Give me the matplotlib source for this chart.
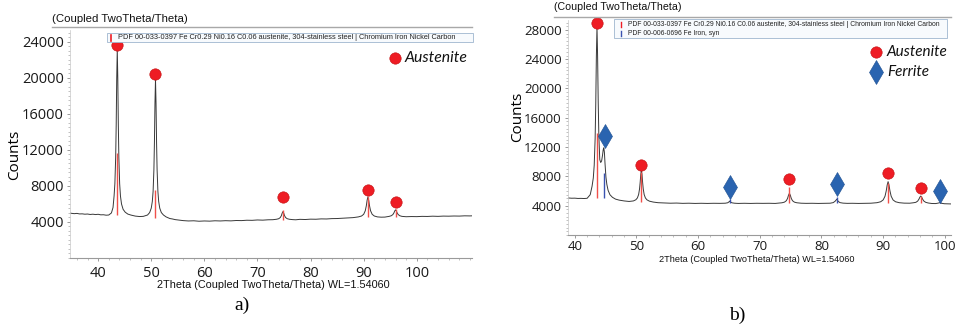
import matplotlib.pyplot as plt
from matplotlib.lines import Line2D
from matplotlib.patches import Rectangle
from matplotlib.ticker import MultipleLocator

W, H = 958, 328

# ---- panel a: austenitic sample, (2theta, counts)
a_pattern = [
    (34.7, 4980), (35.0, 4960), (35.5, 4920), (36.0, 4950), (36.5, 4890), (37.0, 4900),
    (37.5, 4860), (38.0, 4880), (38.5, 4830), (39.0, 4860), (39.5, 4820), (40.0, 4850),
    (40.5, 4790), (41.0, 4800), (41.5, 4750), (42.0, 4770), (42.5, 5000), (42.8, 5600),
    (43.0, 6880), (43.15, 8250), (43.3, 11130), (43.4, 14780), (43.5, 19950), (43.6, 23100),
    (43.7, 19950), (43.8, 14780), (43.9, 11130), (44.05, 8250), (44.2, 6880), (44.4, 5995),
    (44.7, 5400), (45.1, 5080), (45.6, 4870), (46.2, 4760), (47.0, 4650), (47.8, 4600),
    (48.5, 4620), (49.3, 4770), (49.7, 5040), (50.0, 5530), (50.2, 6270), (50.35, 7410),
    (50.5, 9820), (50.6, 12860), (50.7, 17170), (50.8, 19800), (50.9, 17170), (51.0, 12860),
    (51.1, 9820), (51.25, 7410), (51.4, 6270), (51.6, 5530), (51.9, 5040), (52.3, 4770),
    (52.8, 4560), (53.5, 4380), (54.0, 4330), (54.5, 4260), (55.0, 4220), (55.5, 4170),
    (56.0, 4150), (57.0, 4110), (58.0, 4130), (59.0, 4080), (60.0, 4110), (61.0, 4090),
    (62.0, 4130), (63.0, 4110), (64.0, 4140), (65.0, 4120), (66.0, 4160), (67.0, 4150),
    (68.0, 4190), (69.0, 4180), (70.0, 4220), (71.0, 4200), (72.0, 4240), (72.9, 4250),
    (73.6, 4300), (74.0, 4360), (74.3, 4490), (74.5, 4700), (74.65, 4970), (74.8, 5150),
    (74.95, 4970), (75.1, 4700), (75.3, 4490), (75.6, 4360), (76.0, 4300), (76.6, 4260),
    (77.2, 4240), (78.0, 4290), (79.0, 4270), (80.0, 4310), (81.0, 4300), (82.0, 4340),
    (83.0, 4330), (84.0, 4370), (85.0, 4380), (86.0, 4410), (87.0, 4430), (88.0, 4480),
    (89.0, 4560), (89.6, 4660), (90.0, 4850), (90.3, 5240), (90.5, 5800), (90.65, 6410),
    (90.8, 6770), (90.95, 6410), (91.1, 5800), (91.3, 5240), (91.6, 4850), (92.0, 4660),
    (92.6, 4560), (93.3, 4530), (94.0, 4540), (94.8, 4620), (95.2, 4690), (95.5, 4820),
    (95.7, 5010), (95.85, 5220), (96.0, 5340), (96.15, 5220), (96.3, 5010), (96.5, 4820),
    (96.8, 4690), (97.2, 4620), (98.0, 4580), (99.0, 4600), (100.0, 4590), (101.0, 4620),
    (102.0, 4610), (103.0, 4640), (104.0, 4620), (105.0, 4650), (106.0, 4640),
    (107.0, 4660), (108.0, 4650), (109.0, 4680), (110.0, 4670), (110.4, 4680),
]
a_aus_pos = [43.6, 50.8, 74.8, 90.8, 96.0]
a_aus_base = [4720, 4450, 4230, 4500, 4560]
a_aus_top = [11700, 7550, 5330, 6770, 5400]
a_aus_mark = [23600, 20400, 6800, 7600, 6250]
a_yticks = [4000, 8000, 12000, 16000, 20000, 24000]
a_xticks = [40, 50, 60, 70, 80, 90, 100]

# ---- panel b: austenite + ferrite sample
b_pattern = [
    (38.9, 5060), (39.5, 5020), (40.0, 5030), (40.5, 4990), (41.0, 5000), (41.5, 4980),
    (42.0, 5010), (42.5, 5500), (42.8, 6650), (43.0, 7780), (43.15, 9520), (43.3, 13190),
    (43.4, 17830), (43.5, 24400), (43.6, 28430), (43.7, 24400), (43.8, 18100), (43.9, 13600),
    (44.05, 10300), (44.2, 9900), (44.35, 10100), (44.5, 10900), (44.6, 11600), (44.7, 11900),
    (44.8, 11300), (44.9, 9800), (45.05, 7900), (45.2, 6900), (45.4, 6100), (45.7, 5500),
    (46.1, 5150), (46.6, 4900), (47.2, 4760), (48.0, 4650), (48.8, 4580), (49.5, 4650),
    (49.9, 4810), (50.15, 5060), (50.35, 5520), (50.5, 6290), (50.6, 7170), (50.7, 8270),
    (50.8, 8870), (50.9, 8270), (51.0, 7170), (51.1, 6290), (51.25, 5520), (51.45, 5060),
    (51.7, 4800), (52.1, 4620), (52.7, 4500), (53.5, 4410), (54.5, 4370), (55.5, 4340),
    (56.5, 4360), (57.5, 4320), (58.5, 4340), (59.5, 4310), (60.5, 4330), (61.5, 4310),
    (62.5, 4330), (63.5, 4320), (64.4, 4340), (64.8, 4400), (65.0, 4520), (65.1, 4620),
    (65.25, 4500), (65.5, 4390), (65.9, 4340), (66.5, 4310), (67.5, 4330), (68.5, 4310),
    (69.5, 4330), (70.5, 4320), (71.5, 4330), (72.5, 4310), (73.6, 4400), (74.0, 4490),
    (74.3, 4680), (74.5, 5000), (74.65, 5420), (74.8, 5690), (74.95, 5420), (75.1, 5000),
    (75.3, 4680), (75.6, 4490), (76.0, 4400), (76.7, 4340), (77.5, 4320), (78.5, 4330),
    (79.5, 4310), (80.5, 4320), (81.4, 4340), (81.9, 4420), (82.2, 4600), (82.5, 4900),
    (82.7, 4600), (83.0, 4420), (83.5, 4350), (84.2, 4320), (85.0, 4330), (86.0, 4310),
    (87.0, 4330), (88.0, 4340), (89.0, 4410), (89.6, 4540), (90.0, 4790), (90.3, 5290),
    (90.5, 6030), (90.65, 6810), (90.8, 7280), (90.95, 6810), (91.1, 6030), (91.3, 5290),
    (91.6, 4790), (92.0, 4540), (92.6, 4410), (93.4, 4350), (94.3, 4340), (94.9, 4400),
    (95.3, 4460), (95.6, 4630), (95.8, 4890), (95.95, 5160), (96.1, 5320), (96.25, 5160),
    (96.4, 4890), (96.6, 4630), (96.9, 4460), (97.3, 4370), (97.9, 4300), (98.5, 4290),
    (98.9, 4350), (99.2, 4420), (99.4, 4340), (99.9, 4270), (100.5, 4250), (101.0, 4240),
]
b_aus_pos = [43.6, 50.8, 74.8, 90.8, 96.1]
b_aus_base = [5050, 4550, 4370, 4370, 4370]
b_aus_top = [13900, 8640, 6550, 7140, 5320]
b_aus_mark = [29000, 9550, 7690, 8420, 6460]
b_fer_pos = [44.7, 65.1, 82.5, 99.2]
b_fer_base = [5050, 4370, 4370, 4370]
b_fer_top = [8460, 4900, 5230, 4600]
b_fer_mark_pos = [44.9, 65.1, 82.5, 99.2]
b_fer_mark = [13500, 6600, 6960, 6050]
b_yticks = [4000, 8000, 12000, 16000, 20000, 24000, 28000]
b_xticks = [40, 50, 60, 70, 80, 90, 100]

PDF_AUS = "PDF 00-033-0397 Fe Cr0.29 Ni0.16 C0.06 austenite, 304-stainless steel | Chromium Iron Nickel Carbon"
PDF_FER = "PDF 00-006-0696 Fe Iron, syn"
XLABEL = "2Theta (Coupled TwoTheta/Theta) WL=1.54060"
TITLE = "(Coupled TwoTheta/Theta)"

RED = "#ee1c24"
BLUE = "#2a64b0"
STICK_RED = "#f0504a"
STICK_BLUE = "#3a52b0"
CURVE = "#383838"
TICK_FONT = "Open Sans"


def fx(px):
    return px / W


def fy(py):
    return 1 - py / H


def style_axes(ax, xlim, ylim, xticks, yticks, tick_size, xpad):
    ax.set_xlim(*xlim)
    ax.set_ylim(*ylim)
    ax.set_xticks(xticks)
    ax.set_yticks(yticks)
    ax.xaxis.set_minor_locator(MultipleLocator(2))
    ax.yaxis.set_minor_locator(MultipleLocator(500))
    for side in ("top", "right"):
        ax.spines[side].set_visible(False)
    ax.spines["left"].set_color("#c8c8c8")
    ax.spines["left"].set_linewidth(0.5)
    ax.spines["bottom"].set_color("#9a9a9a")
    ax.spines["bottom"].set_linewidth(0.8)
    ax.tick_params(which="major", length=2.5, width=0.6, color="#8a8a8a",
                   labelsize=tick_size, labelcolor="#1a1a1a", pad=2)
    ax.tick_params(axis="x", which="major", pad=xpad)
    ax.tick_params(which="minor", length=1.5, width=0.5, color="#a8a8a8")
    for lab in ax.get_xticklabels() + ax.get_yticklabels():
        lab.set_family(TICK_FONT)
    ax.patch.set_alpha(0)


def header(fig, x0, x1, y_title, y_line, size):
    fig.text(fx(x0), fy(y_title), TITLE, family="Liberation Sans", fontsize=size,
             ha="left", va="center", color="#111111")
    fig.add_artist(Line2D([fx(x0), fx(x1)], [fy(y_line), fy(y_line)],
                          color="#a8a8a8", lw=1.0))


def pdf_box(fig, x0, y0, x1, y1):
    fig.add_artist(Rectangle((fx(x0), fy(y1)), fx(x1) - fx(x0), fy(y0) - fy(y1),
                             facecolor="#f7fafd", edgecolor="#9fb6cf", lw=0.6))


fig = plt.figure(figsize=(W / 100, H / 100), dpi=100)

# ---------------- panel a  (axes box in pixels: x 70..472, y 30..258)
ax_a = fig.add_axes([fx(70), fy(258), fx(472) - fx(70), fy(30) - fy(258)])
ax_a.plot([p[0] for p in a_pattern], [p[1] for p in a_pattern], color=CURVE, lw=0.7)
ax_a.vlines(a_aus_pos, a_aus_base, a_aus_top, color=STICK_RED, lw=1.0)
ax_a.plot(a_aus_pos, a_aus_mark, "o", ms=8.2, color=RED, mec="#c01010", mew=0.4,
          clip_on=False)
style_axes(ax_a, (34.7, 110.4), (0, 25300), a_xticks, a_yticks, 10.5, 3)
ax_a.set_ylabel("Counts", family=TICK_FONT, fontsize=11)
ax_a.yaxis.set_label_coords((22 - 70) / 402, (258 - 155) / 228)
fig.text(fx(273), fy(285), XLABEL, family="Liberation Sans", fontsize=7.8,
         ha="center", va="center", color="#111111")
header(fig, 52, 472, 18.5, 27.3, 8.2)
pdf_box(fig, 107, 33.3, 472.5, 42)
fig.add_artist(Line2D([fx(111), fx(111)], [fy(34.5), fy(40.5)], color=RED, lw=1.2))
fig.text(fx(118), fy(37.5), PDF_AUS, family="Liberation Sans", fontsize=5.35,
         ha="left", va="center", color="#222222")
fig.add_artist(Line2D([fx(395)], [fy(58.3)], marker="o", ms=8.2, color=RED,
                      mec="#c01010", mew=0.4, ls="none"))
fig.text(fx(405), fy(58.3), "Austenite", family="Lato", style="italic",
         fontsize=11.3, ha="left", va="center", color="#111111")
fig.text(fx(242), fy(305), "a)", family="Liberation Serif", fontsize=14,
         ha="center", va="center")

# ---------------- panel b  (axes box in pixels: x 568..951, y 20..235)
ax_b = fig.add_axes([fx(568), fy(235), fx(951) - fx(568), fy(20) - fy(235)])
ax_b.plot([p[0] for p in b_pattern], [p[1] for p in b_pattern], color=CURVE, lw=0.7)
ax_b.vlines(b_aus_pos, b_aus_base, b_aus_top, color=STICK_RED, lw=1.0)
ax_b.vlines(b_fer_pos, b_fer_base, b_fer_top, color=STICK_BLUE, lw=1.0)
ax_b.plot(b_aus_pos, b_aus_mark, "o", ms=8.2, color=RED, mec="#c01010", mew=0.4,
          clip_on=False)
ax_b.plot(b_fer_mark_pos, b_fer_mark, "d", ms=12.5, color=BLUE, mec="#1d4f90",
          mew=0.4, clip_on=False)
style_axes(ax_b, (38.9, 101.0), (0, 29350), b_xticks, b_yticks, 9.5, 1)
ax_b.set_ylabel("Counts", family=TICK_FONT, fontsize=11)
ax_b.yaxis.set_label_coords((525 - 568) / 383, (235 - 117) / 215)
fig.text(fx(757), fy(259), XLABEL, family="Liberation Sans", fontsize=6.6,
         ha="center", va="center", color="#111111")
header(fig, 554, 951, 7.0, 16.7, 7.7)
pdf_box(fig, 613.5, 19.5, 947, 37.7)
fig.add_artist(Line2D([fx(621), fx(621)], [fy(22), fy(27)], color=RED, lw=1.0))
fig.add_artist(Line2D([fx(621), fx(621)], [fy(31), fy(36)], color=STICK_BLUE, lw=1.0))
fig.text(fx(628), fy(24.5), PDF_AUS, family="Liberation Sans", fontsize=4.85,
         ha="left", va="center", color="#222222")
fig.text(fx(628), fy(33.3), PDF_FER, family="Liberation Sans", fontsize=4.85,
         ha="left", va="center", color="#222222")
fig.add_artist(Line2D([fx(876)], [fy(51.7)], marker="o", ms=8.2, color=RED,
                      mec="#c01010", mew=0.4, ls="none"))
fig.text(fx(887), fy(51.7), "Austenite", family="Lato", style="italic",
         fontsize=11, ha="left", va="center", color="#111111")
fig.add_artist(Line2D([fx(876)], [fy(71.7)], marker="d", ms=12.5, color=BLUE,
                      mec="#1d4f90", mew=0.4, ls="none"))
fig.text(fx(887), fy(71.7), "Ferrite", family="Lato", style="italic",
         fontsize=11, ha="left", va="center", color="#111111")
fig.text(fx(737), fy(315), "b)", family="Liberation Serif", fontsize=14,
         ha="center", va="center")

fig.savefig("out.png", dpi=100)
